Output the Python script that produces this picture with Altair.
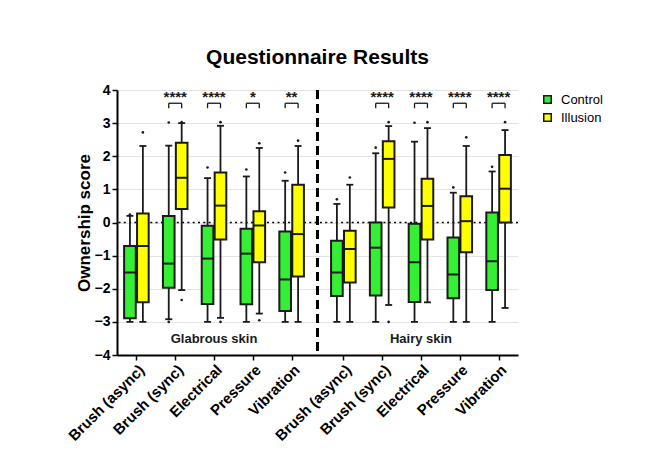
import altair as alt
import pandas as pd

# ---------------- data ----------------
groups = ["Brush (async)", "Brush (sync)", "Electrical", "Pressure", "Vibration"]
skins = ["Glabrous skin", "Hairy skin"]
conditions = ["Control", "Illusion"]

# order: glabrous (5 groups), then hairy (5 groups)
ctrl_q1 = [-2.89, -1.97, -2.46, -2.47, -2.67, -2.22, -2.20, -2.40, -2.29, -2.04]
ctrl_med = [-1.51, -1.24, -1.09, -0.94, -1.72, -1.51, -0.76, -1.20, -1.57, -1.17]
ctrl_q3 = [-0.71, 0.20, -0.10, -0.19, -0.27, -0.55, 0.00, -0.04, -0.45, 0.30]
ctrl_lo = [-3.00, -2.92, -3.00, -3.00, -3.00, -3.00, -3.00, -3.00, -3.00, -3.00]
ctrl_hi = [0.20, 2.32, 1.34, 1.39, 1.26, 0.56, 2.09, 2.44, 0.90, 1.54]
ctrl_out = [[0.24], [3.02, -3.0], [1.66], [1.60], [1.51],
            [0.70], [2.26], [3.01], [1.06], [1.68]]

ill_q1 = [-2.41, 0.41, -0.51, -1.20, -1.63, -1.81, 0.45, -0.51, -0.90, 0.00]
ill_med = [-0.71, 1.35, 0.51, -0.09, -0.35, -0.80, 1.92, 0.50, 0.04, 1.02]
ill_q3 = [0.27, 2.41, 1.51, 0.34, 1.14, -0.25, 2.45, 1.32, 0.79, 2.04]
ill_lo = [-3.00, -2.04, -2.88, -2.75, -3.00, -3.00, -2.49, -2.41, -3.00, -2.58]
ill_hi = [2.31, 3.00, 2.92, 2.25, 2.31, 1.14, 2.91, 2.85, 2.31, 2.79]
ill_out = [[2.72], [3.03, -2.34], [3.03, -3.0], [2.39, -2.95], [2.47],
           [1.36], [3.03, -3.0], [3.03], [2.57], [3.03]]

significance = ["", "****", "****", "*", "**", "", "****", "****", "****", "****"]

y_ticks = [-4, -3, -2, -1, 0, 1, 2, 3, 4]

# ---------------- layout helpers ----------------
FONT = "Liberation Sans"
INK = "#1a1a1a"
GREEN = "#35ef35"
YELLOW = "#ffff00"

labels = groups + groups
positions = [3 * i + (1 if i >= 5 else 0) for i in range(10)]
separator = 14
half_w = 0.45

box_rows, cap_rows, out_rows, sig_rows = [], [], [], []
for i in range(10):
    p = positions[i]
    for cond, off, q1, med, q3, lo, hi, outs in [
        ("Control", -0.5, ctrl_q1, ctrl_med, ctrl_q3, ctrl_lo, ctrl_hi, ctrl_out),
        ("Illusion", 0.5, ill_q1, ill_med, ill_q3, ill_lo, ill_hi, ill_out),
    ]:
        xc = p + off
        box_rows.append(dict(cond=cond, xc=xc, xl=xc - half_w, xr=xc + half_w,
                             q1=q1[i], med=med[i], q3=q3[i], lo=lo[i], hi=hi[i]))
        for v in (lo[i], hi[i]):
            cap_rows.append(dict(xl=xc - 0.27, xr=xc + 0.27, y=v))
        for v in outs[i]:
            out_rows.append(dict(x=xc, y=v))
    if significance[i]:
        sig_rows.append(dict(xl=p - 0.5, xr=p + 0.5, xm=p, y=3.6, yb=3.45, ys=3.8,
                             label=significance[i]))

boxes = pd.DataFrame(box_rows)
caps = pd.DataFrame(cap_rows)
outliers = pd.DataFrame(out_rows)
sigs = pd.DataFrame(sig_rows)
skin_df = pd.DataFrame(dict(x=[6, 22], y=[-3.53, -3.53], label=skins))

label_expr = "[" + ",".join("'" + s + "'" for s in labels) + "][indexof([" + \
    ",".join(str(p) for p in positions) + "], datum.value)]"

x_scale = alt.Scale(domain=[-1.5, 29.5], nice=False, zero=False)
y_scale = alt.Scale(domain=[-4, 4], nice=False, zero=False)

x_axis = alt.Axis(values=positions, labelExpr=label_expr, title="", grid=False,
                  labelAngle=-45, labelAlign="right", labelBaseline="top",
                  labelOverlap=False, labelFlush=False,
                  labelFont=FONT, labelFontSize=15, labelFontWeight="bold",
                  labelColor="black", labelPadding=2,
                  domainColor="black", domainWidth=2, tickColor="black",
                  tickWidth=1.5, tickSize=5)
y_axis = alt.Axis(values=y_ticks, title="Ownership score", grid=True,
                  gridColor="#e3e3e3", gridWidth=1,
                  labelFont=FONT, labelFontSize=14, labelFontWeight="bold",
                  labelColor="black", labelPadding=2,
                  titleFont=FONT, titleFontSize=17, titleFontWeight="bold",
                  titleColor="black", titlePadding=1,
                  domainColor="black", domainWidth=2, tickColor="black",
                  tickWidth=1.5, tickSize=5)


def X(f):
    return alt.X(f, type="quantitative", scale=x_scale, axis=x_axis)


def Y(f):
    return alt.Y(f, type="quantitative", scale=y_scale, axis=y_axis)


zero_line = alt.Chart(pd.DataFrame(dict(y=[0]))).mark_rule(
    color="black", strokeWidth=1.6, strokeDash=[2, 3.3]
).encode(y=Y("y"))

sep_line = alt.Chart(pd.DataFrame(dict(x=[separator]))).mark_rule(
    color="black", strokeWidth=3, strokeDash=[9, 5]
).encode(x=X("x"))

whiskers = alt.Chart(boxes).mark_rule(color=INK, strokeWidth=1.8).encode(
    x=X("xc"), y=Y("lo"), y2="hi")

cap_marks = alt.Chart(caps).mark_rule(color=INK, strokeWidth=1.8).encode(
    x=X("xl"), x2="xr", y=Y("y"))

box_marks = alt.Chart(boxes).mark_rect(stroke=INK, strokeWidth=2).encode(
    x=X("xl"), x2="xr", y=Y("q1"), y2="q3",
    fill=alt.Fill("cond:N", scale=alt.Scale(domain=conditions, range=[GREEN, YELLOW]),
                  legend=alt.Legend(title="", orient="none", legendX=424, legendY=3,
                                    symbolType="square", symbolSize=56,
                                    symbolStrokeColor=INK, symbolStrokeWidth=1.5,
                                    labelFont=FONT, labelFontSize=13,
                                    labelColor="black", labelOffset=7,
                                    rowPadding=3, padding=0)))

median_marks = alt.Chart(boxes).mark_rule(color=INK, strokeWidth=2).encode(
    x=X("xl"), x2="xr", y=Y("med"))

out_marks = alt.Chart(outliers).mark_circle(color=INK, size=7, opacity=1).encode(
    x=X("x"), y=Y("y"))

sig_h = alt.Chart(sigs).mark_rule(color=INK, strokeWidth=1.3).encode(
    x=X("xl"), x2="xr", y=Y("y"))
sig_l = alt.Chart(sigs).mark_rule(color=INK, strokeWidth=1.3).encode(
    x=X("xl"), y=Y("yb"), y2="y")
sig_r = alt.Chart(sigs).mark_rule(color=INK, strokeWidth=1.3).encode(
    x=X("xr"), y=Y("yb"), y2="y")
sig_t = alt.Chart(sigs).mark_text(font=FONT, fontSize=15, fontWeight="bold",
                                  color=INK, baseline="middle").encode(
    x=X("xm"), y=Y("ys"), text="label:N")

skin_text = alt.Chart(skin_df).mark_text(font=FONT, fontSize=13, fontWeight="bold",
                                         color=INK, baseline="middle").encode(
    x=X("x"), y=Y("y"), text="label:N")

chart = alt.layer(
    zero_line, sep_line, whiskers, cap_marks, box_marks, median_marks,
    out_marks, sig_h, sig_l, sig_r, sig_t, skin_text
).properties(
    width=401, height=265,
    title=alt.TitleParams("Questionnaire Results", font=FONT, fontSize=21,
                          fontWeight="bold", color="black", anchor="middle",
                          frame="group", offset=15),
    autosize=alt.AutoSizeParams(type="none"),
    padding={"left": 109, "top": 82, "right": 123, "bottom": 92},
).configure_view(stroke=None)

chart.save("out.html", embed_options={"renderer": "svg", "actions": False})
